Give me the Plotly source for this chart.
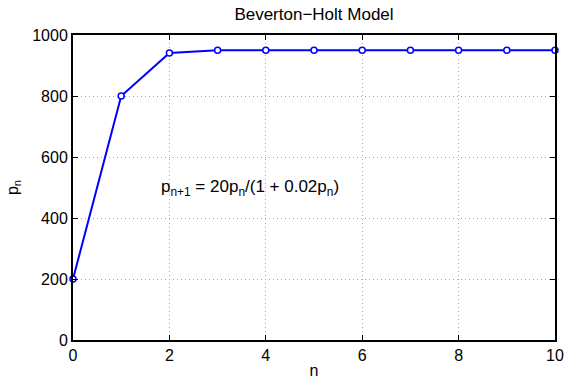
import plotly.graph_objects as go

n_vals = [0, 1, 2, 3, 4, 5, 6, 7, 8, 9, 10]
p_vals = [200, 800, 941.2, 949.6, 950, 950, 950, 950, 950, 950, 950]
x_ticks = [0, 2, 4, 6, 8, 10]
y_ticks = [0, 200, 400, 600, 800, 1000]

font = dict(family="Liberation Sans, Arial, sans-serif", size=16, color="black")
font17 = dict(family="Liberation Sans, Arial, sans-serif", size=17, color="black")

fig = go.Figure()
fig.add_trace(go.Scatter(
    x=n_vals, y=p_vals, mode="lines+markers",
    line=dict(color="#0000ff", width=2),
    marker=dict(symbol="circle", size=6, color="white",
                line=dict(color="#0000ff", width=1.5)),
    cliponaxis=False, showlegend=False))

axis_common = dict(
    showgrid=True, gridcolor="#a8a8a8", griddash="1px,3px", gridwidth=1,
    showline=True, linecolor="black", linewidth=2, mirror="ticks",
    ticks="inside", ticklen=5, tickcolor="black", tickwidth=1,
    zeroline=False, tickfont=font, automargin=False)

fig.update_xaxes(range=[0, 10], tickvals=x_ticks, **axis_common,
                 title=dict(text="n", font=font, standoff=2))
fig.update_yaxes(range=[0, 1000], tickvals=y_ticks, **axis_common,
                 title=dict(text="p<sub>n</sub>", font=font, standoff=10))

fig.add_annotation(x=1.78, y=500, xanchor="left", yanchor="middle",
                   text="p<sub>n+1</sub> = 20p<sub>n</sub>/(1 + 0.02p<sub>n</sub>)",
                   showarrow=False, font=font17)

fig.update_layout(
    width=566, height=381,
    margin=dict(l=73, r=11, t=35, b=41),
    paper_bgcolor="white", plot_bgcolor="white",
    font=font,
    title=dict(text="Beverton\u2212Holt Model", x=0.5, xanchor="center",
               xref="paper", y=1 - 14 / 381, yanchor="middle", yref="container",
               font=font17),
)

fig.write_html("out.html")
